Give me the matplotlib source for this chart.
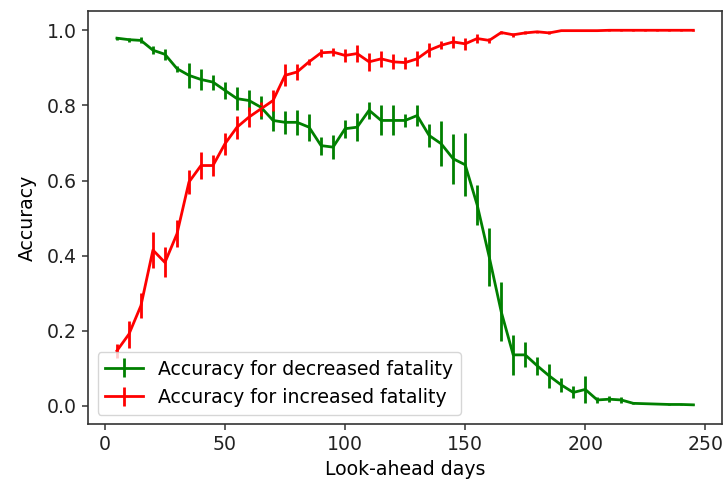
import matplotlib
matplotlib.use("Agg")
import matplotlib.pyplot as plt
import numpy as np

days = list(range(5, 250, 5))

dec_acc = [0.979, 0.975, 0.973, 0.947, 0.936, 0.898, 0.880, 0.869, 0.862, 0.840,
           0.818, 0.813, 0.795, 0.760, 0.755, 0.755, 0.742, 0.693, 0.689, 0.738,
           0.742, 0.787, 0.760, 0.760, 0.760, 0.773, 0.720, 0.698, 0.658, 0.642,
           0.535, 0.397, 0.251, 0.136, 0.136, 0.107, 0.080, 0.056, 0.036, 0.044,
           0.016, 0.018, 0.016, 0.007, 0.006, 0.005, 0.004, 0.004, 0.003]
dec_err = [0.004, 0.005, 0.008, 0.011, 0.015, 0.008, 0.033, 0.027, 0.020, 0.022,
           0.030, 0.027, 0.031, 0.027, 0.031, 0.033, 0.036, 0.024, 0.031, 0.024,
           0.038, 0.022, 0.040, 0.040, 0.018, 0.029, 0.031, 0.060, 0.067, 0.084,
           0.053, 0.078, 0.078, 0.053, 0.033, 0.024, 0.031, 0.018, 0.016, 0.036,
           0.008, 0.008, 0.007, 0.002, 0.002, 0.001, 0.001, 0.001, 0.001]

inc_acc = [0.147, 0.191, 0.267, 0.415, 0.382, 0.458, 0.596, 0.640, 0.640, 0.698,
           0.742, 0.769, 0.791, 0.813, 0.880, 0.889, 0.916, 0.940, 0.942, 0.933,
           0.938, 0.916, 0.924, 0.916, 0.914, 0.924, 0.947, 0.960, 0.969, 0.964,
           0.978, 0.973, 0.994, 0.988, 0.993, 0.996, 0.993, 0.999, 0.999, 0.999,
           0.999, 1.000, 1.000, 1.000, 1.000, 1.000, 1.000, 1.000, 1.000]
inc_err = [0.018, 0.036, 0.033, 0.049, 0.040, 0.036, 0.031, 0.036, 0.029, 0.029,
           0.031, 0.027, 0.018, 0.029, 0.029, 0.022, 0.008, 0.011, 0.010, 0.018,
           0.022, 0.024, 0.022, 0.020, 0.016, 0.020, 0.018, 0.011, 0.016, 0.016,
           0.011, 0.006, 0.005, 0.005, 0.004, 0.003, 0.004, 0.002, 0.001, 0.001,
           0.001, 0.001, 0.001, 0.001, 0.001, 0.001, 0.001, 0.001, 0.001]

plt.rcParams['font.family'] = ['DejaVu Sans']
plt.rcParams['font.size'] = 13.6

fig = plt.figure(figsize=(7.28, 4.84), dpi=100)
ax = fig.add_axes([0.121, 0.124, 0.871, 0.853])

lw = 2.0
ax.errorbar(days, dec_acc, yerr=dec_err, color='green', lw=lw, elinewidth=lw,
            label='Accuracy for decreased fatality')
ax.errorbar(days, inc_acc, yerr=inc_err, color='red', lw=lw, elinewidth=lw,
            label='Accuracy for increased fatality')

ax.set_xlabel('Look-ahead days', labelpad=4)
ax.set_ylabel('Accuracy', labelpad=7)
ax.set_xticks([0, 50, 100, 150, 200, 250])
ax.set_yticks([0.0, 0.2, 0.4, 0.6, 0.8, 1.0])
ax.tick_params(length=4.5, width=1.1, color='#333333', labelcolor='#222222')
for s in ax.spines.values():
    s.set_linewidth(1.2)
    s.set_color('#333333')
ax.legend(loc='lower left', borderaxespad=0.5)

fig.savefig('out.png', dpi=100)
